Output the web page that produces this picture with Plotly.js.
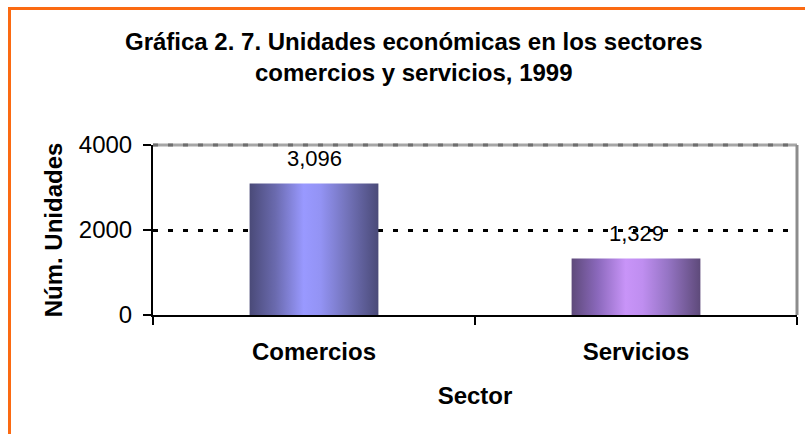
<!DOCTYPE html>
<html>
<head>
<meta charset="utf-8">
<script src="https://cdn.plot.ly/plotly-3.0.1.min.js"></script>
<style>
  html, body { margin: 0; padding: 0; background: #ffffff; }
  #wrap { position: relative; width: 805px; height: 434px; overflow: hidden; }
  #chart { position: absolute; left: 0; top: 0; width: 805px; height: 434px; }
  #frame { position: absolute; left: 8px; top: 7px; width: 820px; height: 450px;
           border-left: 3px solid #fb6a12; border-top: 3px solid #fb6a12; pointer-events: none; }
</style>
</head>
<body>
<div id="wrap">
  <div id="chart"></div>
  <div id="frame"></div>
</div>
<script>
// ---- data ----
const categories = ["Comercios", "Servicios"];
const unidades = [3096, 1329];
const valueLabels = ["3,096", "1,329"];
const yTickValues = [0, 2000, 4000];
const yTickLabels = ["0", "2000", "4000"];
const chartTitle = "Gráfica 2. 7. Unidades económicas en los sectores<br>comercios y servicios, 1999";
const xTitle = "Sector";
const yTitle = "Núm. Unidades";
const barColors = ["#9999ff", "#cc99ff"];
const gradients = [
  ["#4a4a78", "#6a6aae", "#9999ff", "#9393f4", "#7474bc", "#4a4a78"],
  ["#5e4a7a", "#8a68bb", "#c894f8", "#bf8ef0", "#9574c4", "#5e4a7a"]
];
const gradStops = [0, 0.2, 0.42, 0.55, 0.75, 1];

const FONT = "'Liberation Sans', Arial, Helvetica, sans-serif";

const trace = {
  type: "bar",
  x: categories,
  y: unidades,
  marker: { color: barColors, line: { width: 0 } },
  hoverinfo: "skip"
};

const annotations = categories.map((c, i) => ({
  x: c, y: unidades[i], xref: "x", yref: "y",
  text: valueLabels[i], showarrow: false,
  yshift: 25, yanchor: "middle",
  font: { family: FONT, size: 22, color: "#000000" }
}));

const layout = {
  width: 805, height: 434,
  paper_bgcolor: "#ffffff", plot_bgcolor: "#ffffff",
  margin: { l: 153, r: 8, t: 145, b: 119 },
  showlegend: false,
  bargap: 0.6,
  title: {
    text: chartTitle,
    font: { family: FONT, size: 24, color: "#000000", weight: "bold" },
    x: 0.514, xref: "container", xanchor: "center",
    y: 1 - 50 / 434, yref: "container", yanchor: "top"
  },
  xaxis: {
    type: "category",
    showline: true, linecolor: "#000000", linewidth: 2,
    ticks: "outside", tickson: "boundaries", ticklen: 8, tickwidth: 2, tickcolor: "#000000",
    ticklabelstandoff: 14,
    tickfont: { family: FONT, size: 24, color: "#000000", weight: "bold" },
    showgrid: false, zeroline: false,
    title: { text: xTitle, standoff: 23, font: { family: FONT, size: 24, color: "#000000", weight: "bold" } }
  },
  yaxis: {
    range: [0, 4000],
    tickvals: yTickValues, ticktext: yTickLabels,
    showline: true, linecolor: "#000000", linewidth: 2,
    ticks: "outside", ticklen: 8, tickwidth: 2, tickcolor: "#000000",
    ticklabelstandoff: 6,
    tickfont: { family: FONT, size: 24, color: "#000000" },
    showgrid: true, gridcolor: "#000000", gridwidth: 3, griddash: "5px,10px",
    zeroline: false,
    title: { text: yTitle, standoff: 9, font: { family: FONT, size: 24, color: "#000000", weight: "bold" } }
  },
  shapes: [
    { type: "line", xref: "paper", yref: "paper", x0: 0, x1: 1, y0: 1, y1: 1,
      line: { color: "#a6a6a6", width: 3 }, layer: "above" },
    { type: "line", xref: "paper", yref: "paper", x0: 0, x1: 1, y0: 1, y1: 1,
      line: { color: "#6e6e6e", width: 3, dash: "5px,10px" }, layer: "above" },
    { type: "line", xref: "paper", yref: "paper", x0: 1, x1: 1, y0: 0, y1: 1,
      line: { color: "#8c8c8c", width: 3 }, layer: "above" }
  ],
  annotations: annotations
};

const gd = document.getElementById("chart");
Plotly.newPlot(gd, [trace], layout, { displayModeBar: false, staticPlot: true }).then(() => {
  const svg = gd.querySelector("svg.main-svg");
  let defs = svg.querySelector("defs");
  const NS = "http://www.w3.org/2000/svg";
  if (!defs) { defs = document.createElementNS(NS, "defs"); svg.insertBefore(defs, svg.firstChild); }
  gradients.forEach((cols, i) => {
    const lg = document.createElementNS(NS, "linearGradient");
    lg.setAttribute("id", "barGrad" + i);
    lg.setAttribute("x1", "0"); lg.setAttribute("x2", "1");
    lg.setAttribute("y1", "0"); lg.setAttribute("y2", "0");
    cols.forEach((c, k) => {
      const st = document.createElementNS(NS, "stop");
      st.setAttribute("offset", gradStops[k]);
      st.setAttribute("stop-color", c);
      lg.appendChild(st);
    });
    defs.appendChild(lg);
  });
  const paths = gd.querySelectorAll(".barlayer .trace .point path");
  paths.forEach((p, i) => { p.style.fill = "url(#barGrad" + i + ")"; });
});
</script>
</body>
</html>
